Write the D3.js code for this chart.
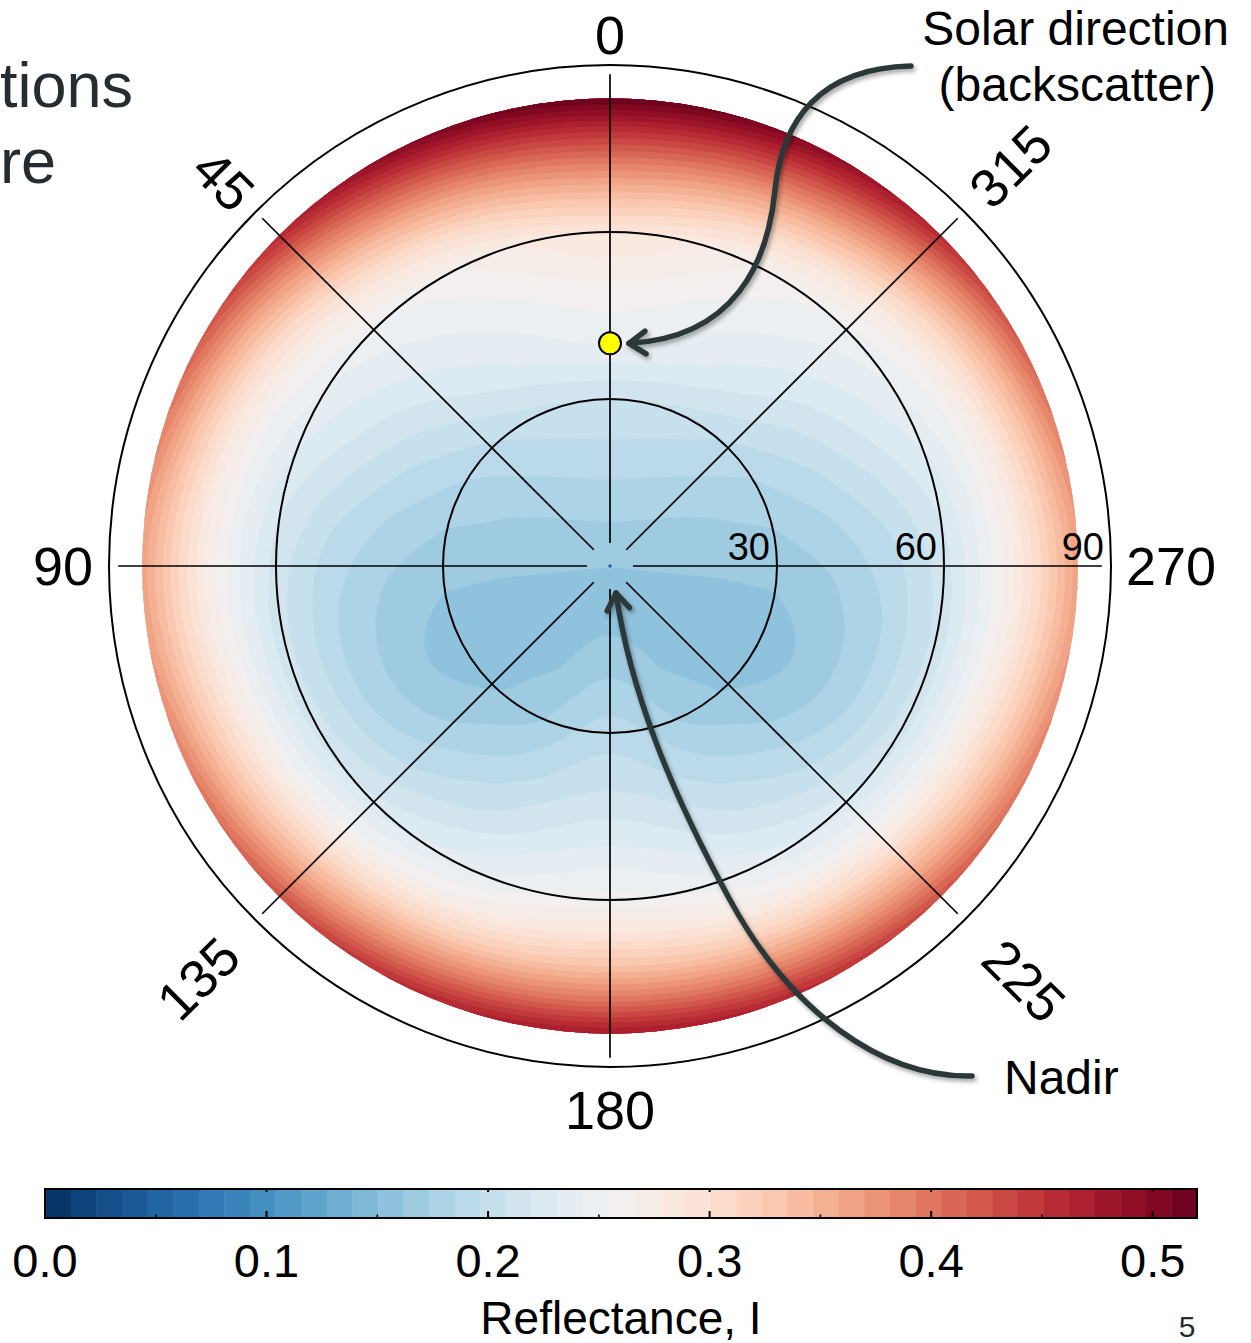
<!DOCTYPE html>
<html><head><meta charset="utf-8">
<script src="https://cdn.jsdelivr.net/npm/d3@7"></script>
<style>
body{margin:0;background:#fff}
svg{display:block}
text{font-family:"Liberation Sans",Arial,Helvetica,sans-serif}
</style>
</head><body>
<svg id="chart" width="1251" height="1343"></svg>
<script>
// ---------------- data ----------------
// view zenith angle grid (deg) and relative azimuth grid (deg, 0 = backscatter / solar direction)
const zenithGrid  = [0, 10, 20, 30, 40, 50, 60, 66, 72, 78, 84];
const azimuthGrid = [0, 30, 60, 90, 120, 150, 180];
// reflectance I along each azimuth (values at zenithGrid); field is symmetric about the 0-180 plane
const reflAz0   = [0.162, 0.176, 0.192, 0.208, 0.243, 0.262, 0.290, 0.335, 0.390, 0.450, 0.520];
const reflAz30  = [0.162, 0.174, 0.187, 0.202, 0.228, 0.245, 0.262, 0.300, 0.355, 0.420, 0.490];
const reflAz60  = [0.162, 0.168, 0.175, 0.184, 0.200, 0.220, 0.240, 0.260, 0.300, 0.355, 0.420];
const reflAz90  = [0.162, 0.163, 0.164, 0.166, 0.175, 0.190, 0.214, 0.240, 0.272, 0.315, 0.365];
const reflAz120 = [0.162, 0.158, 0.155, 0.156, 0.165, 0.185, 0.214, 0.245, 0.290, 0.340, 0.400];
const reflAz150 = [0.162, 0.157, 0.160, 0.168, 0.186, 0.207, 0.235, 0.265, 0.315, 0.380, 0.450];
const reflAz180 = [0.162, 0.158, 0.173, 0.190, 0.207, 0.230, 0.258, 0.290, 0.335, 0.400, 0.475];

const angleTicks       = [0, 45, 90, 135, 180, 225, 270, 315];
const zenithRings      = [30, 60];
const zenithTickLabels = [30, 60, 90];
const colorbarTicks    = [0.0, 0.1, 0.2, 0.3, 0.4, 0.5];
const colorbarMinor    = [0.05, 0.15, 0.25, 0.35, 0.45];
const levelCount = 45;
const levelMax   = 0.52;
const maxZenith  = 84;
const solarPoint = {zenith: 40, azimuth: 0};
const colorbarLabel = "Reflectance, I";

// ---------------- setup ----------------
const svg = d3.select("#chart");
const cx = 610, cy = 566;
const rScale = d3.scaleLinear().domain([0, 90]).range([0, 501]);
const table = [reflAz0, reflAz30, reflAz60, reflAz90, reflAz120, reflAz150, reflAz180];

function polar(theta, phi) { // phi counter-clockwise from top
  const r = rScale(theta), a = phi * Math.PI / 180;
  return [cx - r * Math.sin(a), cy - r * Math.cos(a)];
}

function column(j, k, t) {
  if (j < 0) j = -j;
  if (j > 6) j = 12 - j;
  return table[j][k] * (1 - t) + table[j][k + 1] * t;
}
function valueAt(theta, phi) {
  theta = Math.max(0, Math.min(maxZenith, theta));
  let k = d3.bisectRight(zenithGrid, theta) - 1;
  k = Math.max(0, Math.min(zenithGrid.length - 2, k));
  const t = (theta - zenithGrid[k]) / (zenithGrid[k + 1] - zenithGrid[k]);
  phi = ((phi % 360) + 360) % 360;
  if (phi > 180) phi = 360 - phi;
  const step = azimuthGrid[1] - azimuthGrid[0];
  let u = phi / step, j = Math.floor(u);
  j = Math.max(0, Math.min(azimuthGrid.length - 2, j));
  const s = u - j;
  const p0 = column(j - 1, k, t), p1 = column(j, k, t), p2 = column(j + 1, k, t), p3 = column(j + 2, k, t);
  return 0.5 * (2 * p1 + (-p0 + p2) * s + (2 * p0 - 5 * p1 + 4 * p2 - p3) * s * s + (-p0 + 3 * p1 - 3 * p2 + p3) * s * s * s);
}

// ---------------- filled contour field ----------------
const R84 = rScale(maxZenith);
const half = R84 + 4;
const N = 520;
const cell = 2 * half / N;
const values = new Float64Array(N * N);
for (let j = 0; j < N; j++) {
  for (let i = 0; i < N; i++) {
    const x = -half + (i + 0.5) * cell, y = -half + (j + 0.5) * cell;
    const r = Math.sqrt(x * x + y * y);
    const theta = rScale.invert(r);
    const phi = Math.atan2(-x, -y) * 180 / Math.PI;
    values[i + j * N] = valueAt(theta, phi);
  }
}
const levelStep = levelMax / levelCount;
const thresholds = d3.range(levelCount).map(i => i * levelStep);
const color = i => d3.interpolateRdBu(1 - (i + 0.5) / levelCount);
const contours = d3.contours().size([N, N]).thresholds(thresholds)(values);

const defs = svg.append("defs");
defs.append("clipPath").attr("id", "disk")
  .append("circle").attr("cx", cx).attr("cy", cy).attr("r", R84);
const shadow = defs.append("filter").attr("id", "shadow")
  .attr("x", "-20%").attr("y", "-20%").attr("width", "140%").attr("height", "140%");
shadow.append("feDropShadow").attr("dx", 2).attr("dy", 3).attr("stdDeviation", 2)
  .attr("flood-color", "#000").attr("flood-opacity", 0.35);

const proj = d3.geoIdentity().scale(cell).translate([cx - half, cy - half]);
const path = d3.geoPath(proj);
svg.append("g").attr("clip-path", "url(#disk)")
  .selectAll("path").data(contours).join("path")
  .attr("d", path)
  .attr("fill", (d, i) => color(i))
  .attr("stroke", (d, i) => color(i)).attr("stroke-width", 0.4);

// ---------------- polar grid ----------------
const grid = svg.append("g").attr("fill", "none").attr("stroke", "#000");
grid.selectAll("circle.ring").data(zenithRings).join("circle")
  .attr("class", "ring").attr("cx", cx).attr("cy", cy).attr("r", d => rScale(d)).attr("stroke-width", 2);
grid.append("circle").attr("cx", cx).attr("cy", cy).attr("r", rScale(90)).attr("stroke-width", 2);
grid.selectAll("line").data(angleTicks).join("line")
  .attr("x1", d => polar(4.13, d)[0]).attr("y1", d => polar(4.13, d)[1])
  .attr("x2", d => polar(88.35, d)[0]).attr("y2", d => polar(88.35, d)[1])
  .attr("stroke-width", 1.7);

// angle labels
const labelRadius = {0: 531, 45: 546, 90: 547, 135: 583, 180: 544, 225: 586, 270: 561, 315: 566};
const labelRotate = {0: 0, 45: 45, 90: 0, 135: -45, 180: 0, 225: 45, 270: 0, 315: -45};
svg.append("g").selectAll("text").data(angleTicks).join("text")
  .attr("transform", d => {
    const a = d * Math.PI / 180, r = labelRadius[d];
    return `translate(${cx - r * Math.sin(a)},${cy - r * Math.cos(a)}) rotate(${labelRotate[d]})`;
  })
  .attr("text-anchor", "middle").attr("dy", "0.36em")
  .attr("font-size", 54).attr("fill", "#000").text(d => d);

// zenith labels along the 270 spoke
svg.append("g").selectAll("text").data(zenithTickLabels).join("text")
  .attr("x", d => cx + rScale(d) - 7).attr("y", cy - 6)
  .attr("text-anchor", "end").attr("font-size", 38).attr("fill", "#000").text(d => d);

// nadir marker
svg.append("circle").attr("cx", cx).attr("cy", cy).attr("r", 1.8).attr("fill", "#2166ac");

// solar direction point
const sp = polar(solarPoint.zenith, solarPoint.azimuth);
svg.append("circle").attr("cx", sp[0]).attr("cy", sp[1]).attr("r", 11)
  .attr("fill", "#ffff00").attr("stroke", "#000").attr("stroke-width", 2);

// ---------------- annotation arrows ----------------
const arrowColor = "#2c3838";
function chevron(tip, from, len, spread) {
  const ang = Math.atan2(tip[1] - from[1], tip[0] - from[0]);
  const a1 = ang + Math.PI - spread, a2 = ang + Math.PI + spread;
  return `M${tip[0] + len * Math.cos(a1)},${tip[1] + len * Math.sin(a1)}L${tip[0]},${tip[1]}L${tip[0] + len * Math.cos(a2)},${tip[1] + len * Math.sin(a2)}`;
}
const arrows = svg.append("g").attr("fill", "none").attr("stroke", arrowColor)
  .attr("stroke-width", 5.5).attr("stroke-linecap", "round").attr("stroke-linejoin", "round")
  .attr("filter", "url(#shadow)");
const solarTip = [sp[0] + 19, sp[1]];
arrows.append("path").attr("d", `M911,66 C820,68 782,120 775,190 C768,262 735,338 ${solarTip[0]},${solarTip[1]}`);
arrows.append("path").attr("d", chevron(solarTip, [735, 338], 20, 0.6));
const nadirTip = [cx + 6, cy + 27];
arrows.append("path").attr("d", `M972,1076 C880,1078 790,1010 730,900 C670,790 630,690 ${nadirTip[0]},${nadirTip[1]}`);
arrows.append("path").attr("d", chevron(nadirTip, [630, 690], 20, 0.6));

// annotation texts
svg.append("text").attr("x", 1229).attr("y", 45).attr("text-anchor", "end")
  .attr("font-size", 48).attr("fill", "#000").text("Solar direction");
svg.append("text").attr("x", 1216).attr("y", 101).attr("text-anchor", "end")
  .attr("font-size", 48).attr("fill", "#000").text("(backscatter)");
svg.append("text").attr("x", 1004).attr("y", 1094)
  .attr("font-size", 48).attr("fill", "#000").text("Nadir");

// cut-off slide texts
svg.append("text").attr("x", 0).attr("y", 107).attr("font-size", 63).attr("fill", "#262d31").text("tions");
svg.append("text").attr("x", 0).attr("y", 183).attr("font-size", 63).attr("fill", "#262d31").text("re");
svg.append("text").attr("x", 1187).attr("y", 1337).attr("text-anchor", "middle")
  .attr("font-size", 30).attr("fill", "#262d31").text("5");

// ---------------- colorbar ----------------
const cbX = d3.scaleLinear().domain([0, levelMax]).range([45, 1197]);
const cbY = 1189, cbH = 29;
const cb = svg.append("g");
cb.selectAll("rect").data(d3.range(levelCount)).join("rect")
  .attr("x", i => cbX(i * levelStep)).attr("y", cbY)
  .attr("width", i => cbX((i + 1) * levelStep) - cbX(i * levelStep) + 0.5).attr("height", cbH)
  .attr("fill", i => color(i));
cb.append("rect").attr("x", cbX(0)).attr("y", cbY).attr("width", cbX(levelMax) - cbX(0)).attr("height", cbH)
  .attr("fill", "none").attr("stroke", "#000").attr("stroke-width", 2);
cb.selectAll("line.maj").data(colorbarTicks).join("line").attr("class", "maj")
  .attr("x1", d => cbX(d)).attr("x2", d => cbX(d)).attr("y1", cbY + cbH).attr("y2", cbY + cbH - 7)
  .attr("stroke", "#000").attr("stroke-width", 2);
cb.selectAll("line.majt").data(colorbarTicks).join("line").attr("class", "majt")
  .attr("x1", d => cbX(d)).attr("x2", d => cbX(d)).attr("y1", cbY).attr("y2", cbY + 3)
  .attr("stroke", "#000").attr("stroke-width", 2);
cb.selectAll("line.min").data(colorbarMinor).join("line").attr("class", "min")
  .attr("x1", d => cbX(d)).attr("x2", d => cbX(d)).attr("y1", cbY + cbH).attr("y2", cbY + cbH - 3.5)
  .attr("stroke", "#000").attr("stroke-width", 1.6);
cb.selectAll("text").data(colorbarTicks).join("text")
  .attr("x", d => cbX(d)).attr("y", 1277).attr("text-anchor", "middle")
  .attr("font-size", 47).attr("fill", "#000").text(d => d3.format(".1f")(d));
svg.append("text").attr("x", 621).attr("y", 1334).attr("text-anchor", "middle")
  .attr("font-size", 46).attr("fill", "#000").text(colorbarLabel);
</script>
</body></html>
